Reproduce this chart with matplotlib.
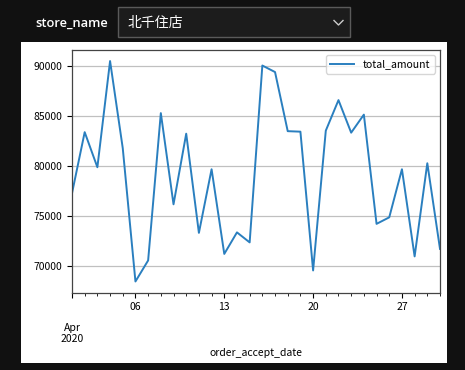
import numpy as np
import pandas as pd
import matplotlib
matplotlib.use('Agg')
from matplotlib import pyplot as plt
from matplotlib.patches import Rectangle
import matplotlib.dates as mdates

plt.rcParams['font.family'] = ['Noto Sans CJK JP', 'DejaVu Sans']

# daily totals for the selected store, April 2020
store = '北千住店'
dates = pd.date_range('2020-04-01', periods=30, freq='D')
total_amount = [77300, 83400, 79900, 90500, 81800, 68500, 70600, 85300, 76200, 83250,
                73350, 79700, 71250, 73400, 72400, 90050, 89400, 83500, 83450, 69600,
                83550, 86600, 83350, 85150, 74250, 74900, 79700, 71000, 80300, 71750]
week_ticks = ['2020-04-01', '2020-04-06', '2020-04-13', '2020-04-20', '2020-04-27']
week_labels = ['\n\nApr\n2020', '06', '13', '20', '27']

W, H = 465, 370
fig = plt.figure(figsize=(W / 100, H / 100), dpi=100, facecolor='#111111')

# widget row on top
fig.text(35 / W, 1 - 23 / H, 'store_name', color='white', fontsize=9.3,
         family=['Open Sans', 'DejaVu Sans'], fontweight='semibold', va='center', ha='left')
fig.patches.append(Rectangle((118 / W, 1 - 37 / H), 232 / W, 30 / H, transform=fig.transFigure,
                             facecolor='#1c1c1c', edgecolor='#5a5a5a', lw=1))
fig.text(128 / W, 1 - 22.5 / H, store, color='white', fontsize=10, va='center', ha='left')
fig.lines.append(plt.Line2D([334 / W, 338.5 / W, 343 / W], [1 - 20.5 / H, 1 - 25 / H, 1 - 20.5 / H],
                            transform=fig.transFigure, color='#cccccc', lw=1))

# white output area (behind the axes)
fig.patches.append(Rectangle((20.5 / W, 1 - 363 / H), 426 / W, 321 / H, transform=fig.transFigure,
                             facecolor='white', edgecolor='none', zorder=-5))

ax = fig.add_axes([72 / W, 1 - 292.5 / H, 368 / W, 242.5 / H])
ax.plot(dates, total_amount, color='#2a7fbf', lw=1.4, label='total_amount')
ax.set_xlim(dates[0], dates[-1])
ax.margins(y=0.05)

ax.set_yticks([70000, 75000, 80000, 85000, 90000])
ax.grid(axis='y', color='#c0c0c0', lw=0.9)
ax.set_axisbelow(True)

ax.set_xticks(pd.to_datetime(week_ticks))
ax.set_xticklabels(week_labels, linespacing=1.1)
ax.xaxis.set_minor_locator(mdates.DayLocator())
ax.tick_params(axis='x', which='major', length=3.5, width=0.8, labelsize=7.5, pad=3)
ax.tick_params(axis='x', which='minor', length=2, width=0.6)
ax.tick_params(axis='y', length=3.5, width=0.8, labelsize=7.5)
ax.set_xlabel('order_accept_date', fontsize=7.5, labelpad=3)

for s in ax.spines.values():
    s.set_color('#444444')
    s.set_linewidth(0.9)

ax.legend(loc='upper right', fontsize=7.5, handlelength=2.3, handletextpad=0.9,
          borderpad=0.4, framealpha=0.8)

fig.savefig('out.png', dpi=100, facecolor=fig.get_facecolor())
